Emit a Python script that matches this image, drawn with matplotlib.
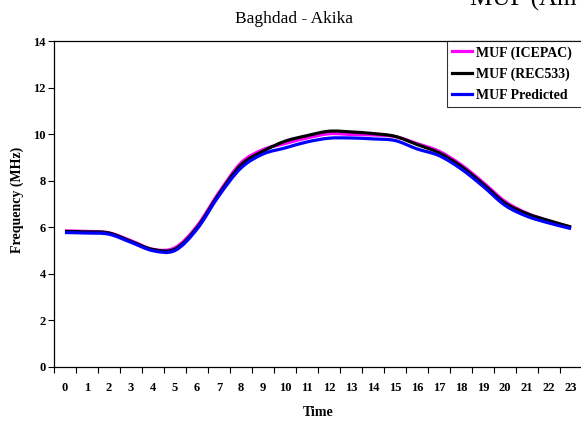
import numpy as np
import matplotlib
matplotlib.use('Agg')
from matplotlib import pyplot as plt
from matplotlib.path import Path
from matplotlib.patches import PathPatch
from matplotlib.lines import Line2D

# hourly MUF values (MHz)
hours = list(range(24))
muf_icepac = [5.84, 5.82, 5.76, 5.42, 5.05, 5.12, 6.05, 7.50, 8.77, 9.34, 9.60, 9.84,
              10.02, 9.99, 9.97, 9.90, 9.60, 9.27, 8.69, 7.93, 7.11, 6.60, 6.27, 5.99]
muf_rec533 = [5.82, 5.80, 5.75, 5.39, 5.04, 5.06, 5.98, 7.43, 8.68, 9.27, 9.70, 9.94,
              10.13, 10.10, 10.03, 9.91, 9.56, 9.20, 8.62, 7.86, 7.04, 6.58, 6.28, 6.01]
muf_predicted = [5.77, 5.75, 5.70, 5.35, 4.99, 5.00, 5.92, 7.36, 8.55, 9.15, 9.41, 9.67,
                 9.83, 9.84, 9.80, 9.73, 9.37, 9.08, 8.51, 7.76, 6.94, 6.47, 6.18, 5.94]
series_labels = ['MUF (ICEPAC)', 'MUF (REC533)', 'MUF Predicted']
series_colors = ['#FF00FF', '#000000', '#0000FF']

plt.rcParams['font.family'] = ['Liberation Serif', 'DejaVu Serif']


def smooth_path(x, y):
    # Excel-like smoothed line: cubic Bezier segments through the data points
    pts = np.column_stack([x, y]).astype(float)
    n = len(pts)
    verts = [pts[0]]
    codes = [Path.MOVETO]
    for i in range(n - 1):
        p_prev = pts[i - 1] if i > 0 else pts[i]
        p_next2 = pts[i + 2] if i + 2 < n else pts[i + 1]
        c1 = pts[i] + (pts[i + 1] - p_prev) / 6.0
        c2 = pts[i + 1] - (p_next2 - pts[i]) / 6.0
        verts += [c1, c2, pts[i + 1]]
        codes += [Path.CURVE4] * 3
    return Path(verts, codes)


fig = plt.figure(figsize=(5.81, 4.23), dpi=100)
ax = fig.add_axes([0.0929, 0.1331, 0.909, 0.7693])

for values, color in zip([muf_icepac, muf_rec533, muf_predicted], series_colors):
    patch = PathPatch(smooth_path(hours, values), facecolor='none', edgecolor=color,
                      lw=2.3, capstyle='butt', joinstyle='round')
    ax.add_patch(patch)

ax.set_xlim(-0.5, 23.5)
ax.set_ylim(0, 14)
ax.set_yticks(range(0, 15, 2))
ax.set_xticks(hours)
ax.set_xticks(np.arange(-0.5, 24, 1), minor=True)
ax.tick_params(axis='x', which='major', length=0, pad=11, labelsize=9)
ax.tick_params(axis='x', which='minor', length=4, width=0.8, direction='out')
ax.tick_params(axis='y', length=4, width=0.8, direction='out', pad=2, labelsize=9)
for lbl in ax.get_xticklabels() + ax.get_yticklabels():
    lbl.set_fontweight('bold')
for sp in ax.spines.values():
    sp.set_linewidth(0.9)

fig.text(0.506, 0.955, 'Baghdad - Akika', ha='center', va='center', fontsize=12.5)
fig.text(0.809, 0.9858, 'MUF (Am', ha='left', va='baseline', fontsize=18)
fig.text(0.548, 0.024, 'Time', ha='center', va='center', fontsize=10, fontweight='bold')
fig.text(0.029, 0.527, 'Frequency (MHz)', ha='center', va='center', rotation=90,
         fontsize=10, fontweight='bold')

# legend box runs past the right edge of the picture, as in the original
handles = [Line2D([], [], color=c, lw=2.3) for c in series_colors]
leg = fig.legend(handles, series_labels, loc='upper left',
                 bbox_to_anchor=(0.7688, 0.5, 0.25, 0.403), mode='expand',
                 prop={'weight': 'bold', 'size': 10}, frameon=True, fancybox=False,
                 handlelength=1.45, handletextpad=0.3, labelspacing=0.56,
                 borderpad=0.36, borderaxespad=0)
leg.get_frame().set_edgecolor('black')
leg.get_frame().set_linewidth(0.8)

plt.savefig('out.png', dpi=100)
